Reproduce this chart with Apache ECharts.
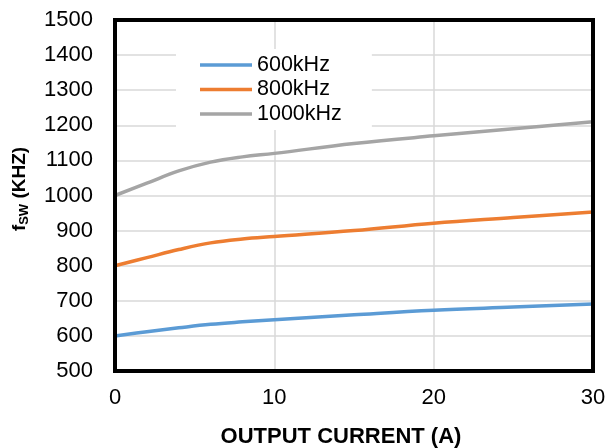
<!DOCTYPE html>
<html><head><meta charset="utf-8">
<script src="https://cdn.jsdelivr.net/npm/echarts@6/dist/echarts.min.js"></script>
<style>html,body{margin:0;padding:0;background:#fff}#c{width:606px;height:448px}</style>
</head><body><div id="c"></div>
<script>
var currents = [0, 2, 4, 6, 8, 10, 15, 20, 25, 30];
var f600 = [600, 612, 623, 633, 640, 646, 660, 673, 682, 691];
var f800 = [800, 823, 846, 865, 876, 883, 900, 921, 937, 953];
var f1000 = [1000, 1035, 1070, 1095, 1110, 1120, 1148, 1170, 1190, 1210];
var seriesNames = ['600kHz', '800kHz', '1000kHz'];
var colors = ['#5b9bd5', '#ed7d31', '#a5a5a5'];
var xTicks = [0, 10, 20, 30];
var yTicks = [500, 600, 700, 800, 900, 1000, 1100, 1200, 1300, 1400, 1500];

function pairs(vals){ return currents.map(function(x,i){return [x, vals[i]];}); }
var all = [f600, f800, f1000];
var font = '"Liberation Sans", Arial, sans-serif';
var chart = echarts.init(document.getElementById('c'), null, {renderer:'canvas'});
chart.setOption({
  animation:false,
  backgroundColor:'#fff',
  grid:{left:115, right:13, top:20, bottom:77, outerBoundsMode:'none', containLabel:false,
    show:true, borderColor:'#000', borderWidth:4, backgroundColor:'transparent', z:10},
  legend:{
    orient:'vertical', left:176, top:49, data:seriesNames,
    backgroundColor:'#fff', padding:[4, 30, 4, 24],
    icon:'rect', itemWidth:52, itemHeight:3.5, itemGap:0.5,
    textStyle:{fontFamily:font, fontSize:21.5, color:'#000', lineHeight:24},
    z:20
  },
  xAxis:{
    type:'value', min:xTicks[0], max:xTicks[xTicks.length-1], interval:10,
    axisLine:{show:false}, axisTick:{show:false},
    splitLine:{show:true, lineStyle:{color:'#d9d9d9', width:1.5}},
    axisLabel:{fontFamily:font, fontSize:22, color:'#000', margin:16, formatter:function(v){return String(v);}},
    name:'OUTPUT CURRENT (A)', nameLocation:'middle', nameGap:55,
    nameTextStyle:{fontFamily:font, fontSize:22, fontWeight:'bold', color:'#000', padding:[0,26,0,0]}
  },
  yAxis:{
    type:'value', min:yTicks[0], max:yTicks[yTicks.length-1], interval:100,
    axisLine:{show:false}, axisTick:{show:false},
    splitLine:{show:true, lineStyle:{color:'#d9d9d9', width:1.5}},
    axisLabel:{fontFamily:font, fontSize:22, color:'#000', margin:22, formatter:function(v){return String(v);}},
    name:'{f|f}{s|SW}{f| (KHZ)}', nameLocation:'middle', nameGap:84, nameRotate:90,
    nameTextStyle:{
      color:'#000', padding:[0,0,0,13],
      rich:{
        f:{fontFamily:font, fontSize:19, fontWeight:'bold', color:'#000'},
        s:{fontFamily:font, fontSize:13, fontWeight:'bold', color:'#000', verticalAlign:'bottom', padding:[9,0,0,0]}
      }
    }
  },
  series: seriesNames.map(function(n,i){
    return {name:n, type:'line', data:pairs(all[i]), smooth:0.4, symbol:'none',
      lineStyle:{color:colors[i], width:3.5}, itemStyle:{color:colors[i]}, z:5};
  })
});
</script></body></html>
